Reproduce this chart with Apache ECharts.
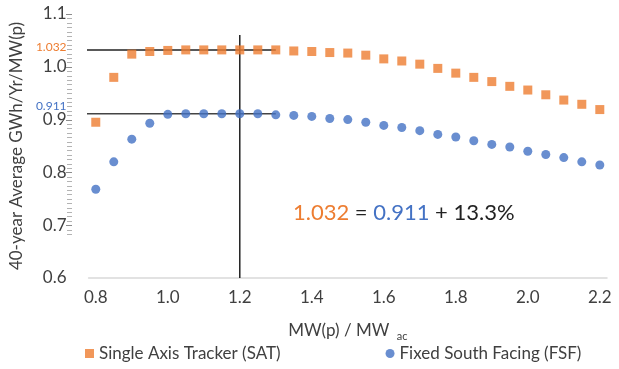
<!DOCTYPE html>
<html>
<head>
<meta charset="utf-8">
<script src="https://cdn.jsdelivr.net/npm/echarts@6/dist/echarts.min.js"></script>
<style>
  html, body { margin: 0; padding: 0; background: #fff; }
  #chart { width: 619px; height: 369px; }
</style>
</head>
<body>
<div id="chart"></div>
<script>
// MW(p)/MW ac ratios
var ratios = [0.8, 0.85, 0.9, 0.95, 1.0, 1.05, 1.1, 1.15, 1.2, 1.25, 1.3, 1.35, 1.4, 1.45, 1.5,
  1.55, 1.6, 1.65, 1.7, 1.75, 1.8, 1.85, 1.9, 1.95, 2.0, 2.05, 2.1, 2.15, 2.2];
var satValues = [0.895, 0.980, 1.024, 1.029, 1.031, 1.032, 1.032, 1.032, 1.032, 1.032, 1.032, 1.030, 1.029, 1.027, 1.026,
  1.022, 1.015, 1.011, 1.005, 0.997, 0.988, 0.980, 0.972, 0.963, 0.956, 0.947, 0.937, 0.929, 0.919];
var fsfValues = [0.768, 0.820, 0.863, 0.893, 0.910, 0.911, 0.911, 0.911, 0.911, 0.911, 0.909, 0.908, 0.906, 0.902, 0.900,
  0.895, 0.889, 0.885, 0.879, 0.872, 0.867, 0.860, 0.853, 0.848, 0.840, 0.834, 0.828, 0.820, 0.814];
var xTickLabels = [0.8, 1.0, 1.2, 1.4, 1.6, 1.8, 2.0, 2.2];
var yTickLabels = [0.6, 0.7, 0.8, 0.9, 0.911, 1.0, 1.032, 1.1];
var satPeak = 1.032, fsfPeak = 0.911;

var orange = '#ED7D31', blue = '#4472C4';
var font = 'Lato, "Open Sans", sans-serif';

function pair(x) { return ratios.map(function (r, i) { return [r, x[i]]; }); }

// guide lines: from the y axis to x=1.3 at each peak, and a vertical one at 1.2
function guide(pts, color) {
  return {
    type: 'line', data: pts, symbol: 'none', clip: false, silent: true, z: 1,
    lineStyle: { color: color, width: 1.5 }, tooltip: { show: false }
  };
}

var chart = echarts.init(document.getElementById('chart'));
chart.setOption({
  animation: false,
  textStyle: { fontFamily: font },
  grid: { left: 83, right: 12, top: 14, bottom: 91 },
  legend: {
    left: 80, top: 340,
    itemGap: 105, itemWidth: 9, itemHeight: 9,
    textStyle: { fontSize: 17, color: '#404040', fontFamily: font },
    data: [
      { name: 'Single Axis Tracker (SAT)', icon: 'rect' },
      { name: 'Fixed South Facing (FSF)', icon: 'circle' }
    ]
  },
  xAxis: {
    type: 'value', min: 0.78, max: 2.22,
    splitLine: { show: false },
    axisLine: { show: true, lineStyle: { color: '#d9d9d9', width: 1.5 } },
    axisTick: { show: false },
    axisLabel: {
      customValues: xTickLabels, fontSize: 17, color: '#404040', margin: 11,
      formatter: function (v) { return v.toFixed(1); }
    },
    name: '{a|MW(p) / MW }{s|ac}', nameLocation: 'middle', nameGap: 41,
    nameTextStyle: {
      rich: {
        a: { fontSize: 17, color: '#404040', fontFamily: font },
        s: { fontSize: 11, color: '#404040', fontFamily: font, padding: [12, 0, 0, 3] }
      }
    }
  },
  yAxis: {
    type: 'value', min: 0.6, max: 1.1, offset: 10,
    splitLine: { show: false },
    axisLine: { show: false },
    axisTick: { show: false },
    axisLabel: {
      customValues: yTickLabels, margin: 12, fontSize: 17, color: '#404040',
      formatter: function (v) {
        if (Math.abs(v - satPeak) < 1e-6) return '{o|1.032}';
        if (Math.abs(v - fsfPeak) < 1e-6) return '{b|0.911}';
        return v.toFixed(1);
      },
      rich: {
        o: { fontSize: 12, color: orange, padding: [0, 0, 5, 0], fontFamily: font },
        b: { fontSize: 12, color: blue, padding: [0, 0, 16, 0], fontFamily: font }
      }
    },
    name: '40-year Average GWh/Yr/MW(p)', nameLocation: 'middle', nameGap: 52,
    nameTextStyle: { fontSize: 17, color: '#404040' }
  },
  series: [
    {
      name: 'Single Axis Tracker (SAT)', type: 'scatter', symbol: 'rect', symbolSize: 9,
      itemStyle: { color: orange }, z: 3,
      data: pair(satValues)
    },
    {
      name: 'Fixed South Facing (FSF)', type: 'scatter', symbol: 'circle', symbolSize: 9,
      itemStyle: { color: blue }, z: 3,
      data: pair(fsfValues)
    },
    guide([[0.7525, satPeak], [1.3, satPeak]], '#222'),
    guide([[0.7525, fsfPeak], [1.3, fsfPeak]], '#444'),
    guide([[1.2, 1.06], [1.2, 0.6]], '#222')
  ]
});

// fine tick marks beside the y labels (0.683 .. 1.1), placed through the y scale
var graphics = [{
  type: 'text', left: 293, top: 202,
  style: {
    text: '{o|1.032} = {b|0.911} + 13.3%',
    font: '22px ' + font, fill: '#222',
    rich: {
      o: { fontSize: 22, fill: orange, fontFamily: font },
      b: { fontSize: 22, fill: blue, fontFamily: font }
    }
  }
}];
for (var i = -2; i <= 48; i++) {
  var v = 0.7 + i * 0.1 / 12;
  var py = Math.round(chart.convertToPixel({ yAxisIndex: 0 }, v)) + 0.5;
  var major = i % 12 === 0;
  graphics.push({
    type: 'line', silent: true,
    shape: { x1: major ? 66 : 67, y1: py, x2: 72, y2: py },
    style: { stroke: major ? '#8c8c8c' : '#b3b3b3', lineWidth: 1 }
  });
}
chart.setOption({ graphic: graphics });
</script>
</body>
</html>
